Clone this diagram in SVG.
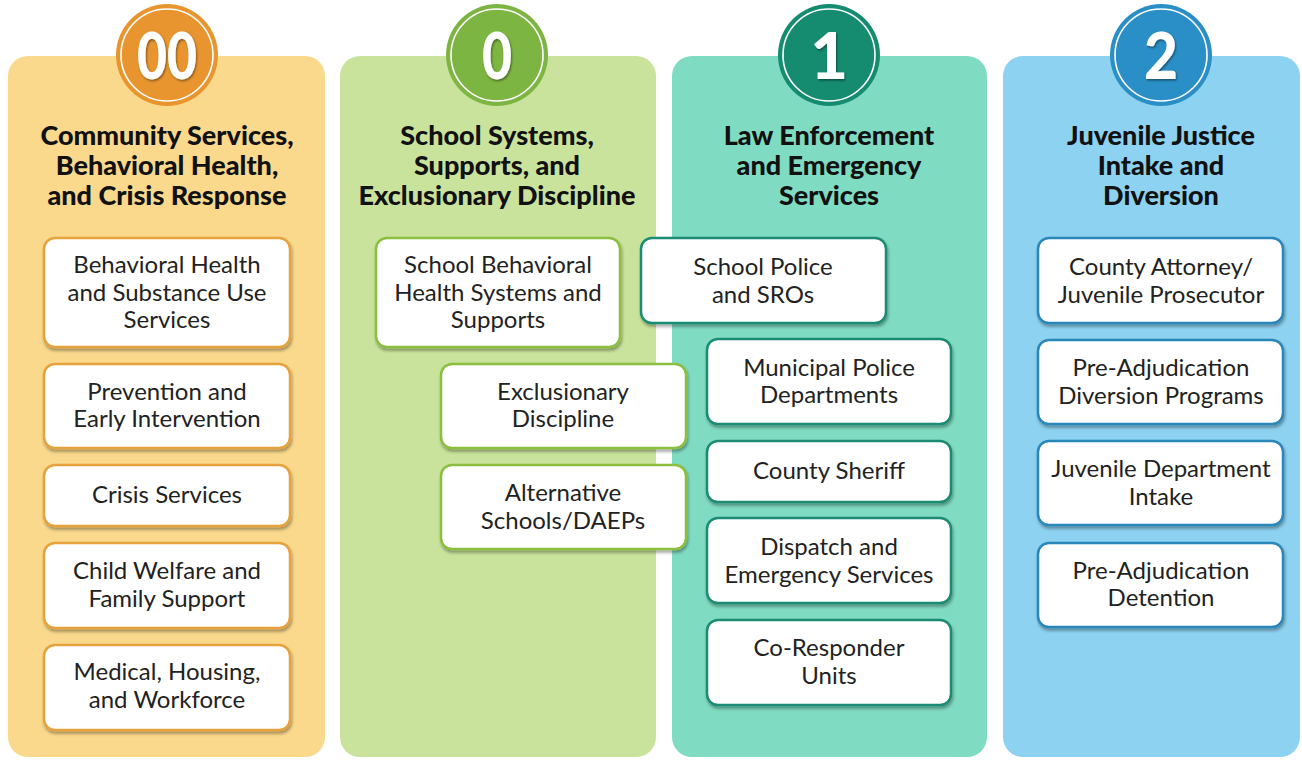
<svg xmlns="http://www.w3.org/2000/svg" width="1302" height="760" viewBox="0 0 1302 760">
<defs>
<filter id="sh" x="-10%" y="-10%" width="120%" height="130%">
<feDropShadow dx="1" dy="2.5" stdDeviation="1.5" flood-color="#000" flood-opacity="0.35"/>
</filter>
<filter id="tsh" x="-20%" y="-20%" width="140%" height="140%">
<feDropShadow dx="1" dy="1.5" stdDeviation="1.2" flood-color="#000" flood-opacity="0.45"/>
</filter>
</defs>
<style>
.panel{stroke:none}
.title{font-family:Lato,"Liberation Sans",sans-serif;font-weight:900;font-size:27px;fill:#111;text-anchor:middle}
.num{font-family:Lato,"Liberation Sans",sans-serif;font-weight:900;font-size:65px;fill:#fff;text-anchor:middle}
.ring{fill:none;stroke:#fff;stroke-width:1.6}
.box{fill:#fff;stroke-width:2.5;filter:url(#sh)}
.lbl{font-family:Lato,"Liberation Sans",sans-serif;font-size:24px;fill:#222;text-anchor:middle}
.o .box{stroke:#E6A23C}
.g .box{stroke:#8CBE3F}
.t .box{stroke:#1C8B73}
.b .box{stroke:#2B87BA}
</style>
<rect width="1302" height="760" fill="#fff"/>

<!-- panels -->
<g id="panel-00" class="o">
<rect class="panel" x="8" y="56" width="317" height="701" rx="20" fill="#FAD98D"/>
<circle cx="167" cy="55" r="51" fill="#E8952F"/>
<circle class="ring" cx="167" cy="55" r="46"/>
<text class="num" x="167" y="79" filter="url(#tsh)" textLength="60" lengthAdjust="spacingAndGlyphs">00</text>
<text class="title" x="167" y="145">Community Services,</text>
<text class="title" x="167" y="175">Behavioral Health,</text>
<text class="title" x="167" y="205">and Crisis Response</text>
</g>
<g id="panel-0" class="g">
<rect class="panel" x="340" y="56" width="316" height="701" rx="20" fill="#C9E39C"/>
<circle cx="497" cy="55" r="51" fill="#7DB542"/>
<circle class="ring" cx="497" cy="55" r="46"/>
<text class="num" x="497" y="79" filter="url(#tsh)" textLength="30" lengthAdjust="spacingAndGlyphs">0</text>
<text class="title" x="497" y="145">School Systems,</text>
<text class="title" x="497" y="175">Supports, and</text>
<text class="title" x="497" y="205">Exclusionary Discipline</text>
</g>
<g id="panel-1" class="t">
<rect class="panel" x="672" y="56" width="315" height="701" rx="20" fill="#7FDBC1"/>
<circle cx="829" cy="55" r="51" fill="#158C70"/>
<circle class="ring" cx="829" cy="55" r="46"/>
<text class="num" x="829" y="79" filter="url(#tsh)">1</text>
<text class="title" x="829" y="145">Law Enforcement</text>
<text class="title" x="829" y="175">and Emergency</text>
<text class="title" x="829" y="205">Services</text>
</g>
<g id="panel-2" class="b">
<rect class="panel" x="1003" y="56" width="297" height="701" rx="20" fill="#8DD2F0"/>
<circle cx="1161" cy="55" r="51" fill="#2A8FC6"/>
<circle class="ring" cx="1161" cy="55" r="46"/>
<text class="num" x="1161" y="79" filter="url(#tsh)" textLength="34" lengthAdjust="spacingAndGlyphs">2</text>
<text class="title" x="1161" y="145">Juvenile Justice</text>
<text class="title" x="1161" y="175">Intake and</text>
<text class="title" x="1161" y="205">Diversion</text>
</g>

<!-- orange column nodes -->
<g id="n-bh" class="o"><rect class="box" x="44" y="238" width="246" height="109" rx="11"/>
<text class="lbl" x="167" y="273">Behavioral Health</text><text class="lbl" x="167" y="301">and Substance Use</text><text class="lbl" x="167" y="328">Services</text></g>
<g id="n-prev" class="o"><rect class="box" x="44" y="364" width="246" height="84" rx="11"/>
<text class="lbl" x="167" y="400">Prevention and</text><text class="lbl" x="167" y="427">Early Intervention</text></g>
<g id="n-crisis" class="o"><rect class="box" x="44" y="465" width="246" height="61" rx="11"/>
<text class="lbl" x="167" y="503">Crisis Services</text></g>
<g id="n-child" class="o"><rect class="box" x="44" y="543" width="246" height="85" rx="11"/>
<text class="lbl" x="167" y="579">Child Welfare and</text><text class="lbl" x="167" y="607">Family Support</text></g>
<g id="n-med" class="o"><rect class="box" x="44" y="645" width="246" height="85" rx="11"/>
<text class="lbl" x="167" y="680">Medical, Housing,</text><text class="lbl" x="167" y="708">and Workforce</text></g>

<!-- green column nodes -->
<g id="n-sbh" class="g"><rect class="box" x="376" y="238" width="244" height="109" rx="11"/>
<text class="lbl" x="498" y="273">School Behavioral</text><text class="lbl" x="498" y="301">Health Systems and</text><text class="lbl" x="498" y="328">Supports</text></g>
<g id="n-excl" class="g"><rect class="box" x="441" y="364" width="245" height="84" rx="11"/>
<text class="lbl" x="563" y="400">Exclusionary</text><text class="lbl" x="563" y="427">Discipline</text></g>
<g id="n-alt" class="g"><rect class="box" x="441" y="465" width="245" height="84" rx="11"/>
<text class="lbl" x="563" y="501">Alternative</text><text class="lbl" x="563" y="529">Schools/DAEPs</text></g>

<!-- teal column nodes -->
<g id="n-spol" class="t"><rect class="box" x="641" y="238" width="245" height="85" rx="11"/>
<text class="lbl" x="763" y="275">School Police</text><text class="lbl" x="763" y="303">and SROs</text></g>
<g id="n-muni" class="t"><rect class="box" x="707" y="339" width="244" height="85" rx="11"/>
<text class="lbl" x="829" y="376">Municipal Police</text><text class="lbl" x="829" y="403">Departments</text></g>
<g id="n-sheriff" class="t"><rect class="box" x="707" y="441" width="244" height="61" rx="11"/>
<text class="lbl" x="829" y="479">County Sheriff</text></g>
<g id="n-disp" class="t"><rect class="box" x="707" y="518" width="244" height="85" rx="11"/>
<text class="lbl" x="829" y="555">Dispatch and</text><text class="lbl" x="829" y="583">Emergency Services</text></g>
<g id="n-co" class="t"><rect class="box" x="707" y="620" width="244" height="85" rx="11"/>
<text class="lbl" x="829" y="656">Co-Responder</text><text class="lbl" x="829" y="684">Units</text></g>

<!-- blue column nodes -->
<g id="n-atty" class="b"><rect class="box" x="1038" y="238" width="245" height="85" rx="11"/>
<text class="lbl" x="1161" y="275">County Attorney/</text><text class="lbl" x="1161" y="303">Juvenile Prosecutor</text></g>
<g id="n-div" class="b"><rect class="box" x="1038" y="340" width="245" height="84" rx="11"/>
<text class="lbl" x="1161" y="376">Pre-Adjudication</text><text class="lbl" x="1161" y="404">Diversion Programs</text></g>
<g id="n-intake" class="b"><rect class="box" x="1038" y="441" width="245" height="84" rx="11"/>
<text class="lbl" x="1161" y="477">Juvenile Department</text><text class="lbl" x="1161" y="505">Intake</text></g>
<g id="n-det" class="b"><rect class="box" x="1038" y="543" width="245" height="84" rx="11"/>
<text class="lbl" x="1161" y="579">Pre-Adjudication</text><text class="lbl" x="1161" y="606">Detention</text></g>

<g id="connectors"></g>
</svg>
